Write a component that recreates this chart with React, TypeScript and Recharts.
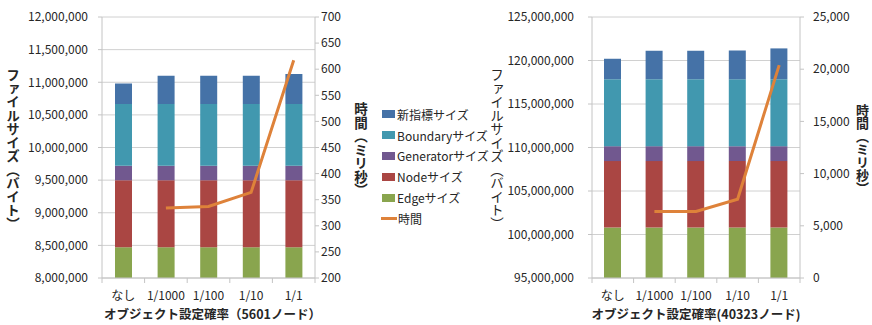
import React from 'react';
import { ComposedChart, Bar, Line, XAxis, YAxis, CartesianGrid, Legend } from 'recharts';

const categories = ['なし', '1/1000', '1/100', '1/10', '1/1'];

// 5601ノード
const edge5601 = [8470000, 8470000, 8470000, 8470000, 8470000];
const node5601 = [1030000, 1030000, 1030000, 1030000, 1030000];
const generator5601 = [220000, 220000, 220000, 220000, 220000];
const boundary5601 = [948000, 948000, 948000, 948000, 948000];
const newIndex5601 = [312000, 432000, 430000, 430000, 459000];
const time5601 = [null, 334, 337, 364, 617];

// 40323ノード
const edge40323 = [100800000, 100800000, 100800000, 100800000, 100800000];
const node40323 = [7640000, 7640000, 7640000, 7640000, 7640000];
const generator40323 = [1710000, 1710000, 1710000, 1710000, 1710000];
const boundary40323 = [7700000, 7700000, 7700000, 7700000, 7700000];
const newIndex40323 = [2350000, 3270000, 3270000, 3310000, 3540000];
const time40323 = [null, 6370, 6370, 7550, 20390];

const sizeTicks5601 = [8000000, 8500000, 9000000, 9500000, 10000000, 10500000, 11000000, 11500000, 12000000];
const timeTicks5601 = [200, 250, 300, 350, 400, 450, 500, 550, 600, 650, 700];
const sizeTicks40323 = [95000000, 100000000, 105000000, 110000000, 115000000, 120000000, 125000000];
const timeTicks40323 = [0, 5000, 10000, 15000, 20000, 25000];

const FONT = '"Noto Sans CJK JP", "Noto Sans", sans-serif';
const TEXT = '#262626';
const AXIS = '#c4c4c4';
const GRID = '#d0d0d0';
const LINE_COLOR = '#DE823A';

const SERIES = [
  { key: 'edge', name: 'Edgeサイズ', color: '#89A54E' },
  { key: 'node', name: 'Nodeサイズ', color: '#AA4643' },
  { key: 'generator', name: 'Generatorサイズ', color: '#71588F' },
  { key: 'boundary', name: 'Boundaryサイズ', color: '#4198AF' },
  { key: 'newIndex', name: '新指標サイズ', color: '#4572A7' },
];

const LEGEND_ORDER = ['newIndex', 'boundary', 'generator', 'node', 'edge', 'time'];

function buildRows(edge, node, generator, boundary, newIndex, time) {
  return categories.map((category, i) => ({
    category,
    edge: edge[i],
    node: node[i],
    generator: generator[i],
    boundary: boundary[i],
    newIndex: newIndex[i],
    time: time[i],
  }));
}

const rows5601 = buildRows(edge5601, node5601, generator5601, boundary5601, newIndex5601, time5601);
const rows40323 = buildRows(edge40323, node40323, generator40323, boundary40323, newIndex40323, time40323);

const fmt = (v: number) => v.toLocaleString('en-US');

const tickStyle = { fontSize: 12, fill: TEXT, fontFamily: FONT };

// category labels centred, tick marks on the band edges
const CategoryTick = (props: any) => {
  const { x, y, payload, index, visibleTicksCount } = props;
  const half = payload.offset || 21;
  return (
    <g>
      <line x1={x - half} x2={x - half} y1={y} y2={y + 5} stroke={AXIS} />
      {index === visibleTicksCount - 1 && (
        <line x1={x + half} x2={x + half} y1={y} y2={y + 5} stroke={AXIS} />
      )}
      <text x={x} y={y + 22} textAnchor="middle" {...tickStyle}>
        {payload.value}
      </text>
    </g>
  );
};

const verticalTitle = (text: string, dx: number, bold: boolean, size = 13.5) => (props: any) => {
  const { viewBox } = props;
  return (
    <text
      x={viewBox.x + dx}
      y={viewBox.y + viewBox.height / 2 + 2}
      textAnchor="middle"
      fontSize={size}
      fontWeight={bold ? 'bold' : 'normal'}
      fontFamily={FONT}
      fill={TEXT}
      style={{ writingMode: 'vertical-rl' }}
    >
      {text}
    </text>
  );
};

const bottomTitle = (text: string, dx: number) => (props: any) => {
  const { viewBox } = props;
  return (
    <text
      x={viewBox.x + viewBox.width / 2 + dx}
      y={viewBox.y + 41}
      textAnchor="middle"
      fontSize={12.5}
      fontWeight="bold"
      fontFamily={FONT}
      fill={TEXT}
    >
      {text}
    </text>
  );
};

const renderLegend = (props: any) => {
  const payload = props.payload || [];
  const items = LEGEND_ORDER.map((k) => payload.find((p: any) => p.dataKey === k)).filter(Boolean);
  return (
    <div style={{ fontFamily: FONT, fontSize: 12, color: TEXT }}>
      {items.map((it: any) => (
        <div key={it.dataKey} style={{ display: 'flex', alignItems: 'center', height: 20.8 }}>
          {it.type === 'line' ? (
            <span style={{ display: 'inline-block', width: 16, height: 3, background: it.color, marginRight: 1 }} />
          ) : (
            <span style={{ display: 'inline-block', width: 13, height: 8, background: it.color, margin: '0 2px 0 1px' }} />
          )}
          <span style={{ whiteSpace: 'nowrap' }}>{it.value}</span>
        </div>
      ))}
    </div>
  );
};

function SizeChart({ data, width, height, margin, leftWidth, rightWidth, sizeTicks, timeTicks, leftTickMargin, rightTickMargin, sizeTitleX, sizeTitleBold, timeTitleX, timeTitleSize, xTitle, xTitleDx, barSize, legend }: any) {
  return (
    <ComposedChart width={width} height={height} data={data} margin={margin}>
      <CartesianGrid vertical={false} stroke={GRID} yAxisId="size" />
      <XAxis
        dataKey="category"
        axisLine={{ stroke: AXIS }}
        tickLine={false}
        tickSize={0}
        tickMargin={0}
        height={30}
        interval={0}
        tick={<CategoryTick />}
        label={bottomTitle(xTitle, xTitleDx)}
      />
      <YAxis
        yAxisId="size"
        orientation="left"
        width={leftWidth}
        domain={[sizeTicks[0], sizeTicks[sizeTicks.length - 1]]}
        ticks={sizeTicks}
        allowDataOverflow
        tickFormatter={fmt}
        axisLine={{ stroke: AXIS }}
        tickLine={{ stroke: AXIS }}
        tickSize={4}
        tickMargin={leftTickMargin}
        tick={tickStyle}
        label={verticalTitle('ファイルサイズ（バイト）', sizeTitleX, sizeTitleBold)}
      />
      <YAxis
        yAxisId="time"
        orientation="right"
        width={rightWidth}
        domain={[timeTicks[0], timeTicks[timeTicks.length - 1]]}
        ticks={timeTicks}
        allowDataOverflow
        tickFormatter={fmt}
        axisLine={{ stroke: AXIS }}
        tickLine={{ stroke: AXIS }}
        tickSize={4}
        tickMargin={rightTickMargin}
        tick={tickStyle}
        label={verticalTitle('時間（ミリ秒）', timeTitleX, true, timeTitleSize)}
      />
      {SERIES.map((s) => (
        <Bar
          key={s.key}
          yAxisId="size"
          dataKey={s.key}
          name={s.name}
          stackId="size"
          fill={s.color}
          barSize={barSize}
          isAnimationActive={false}
        />
      ))}
      <Line
        yAxisId="time"
        dataKey="time"
        name="時間"
        type="linear"
        stroke={LINE_COLOR}
        strokeWidth={3}
        dot={false}
        activeDot={false}
        isAnimationActive={false}
      />
      {legend && (
        <Legend
          layout="vertical"
          align="center"
          verticalAlign="middle"
          content={renderLegend}
          wrapperStyle={{ left: 381, top: 104, width: 120 }}
        />
      )}
    </ComposedChart>
  );
}

export default function App() {
  return (
    <div style={{ position: 'absolute', left: 0, top: 0, width: 872, height: 325, background: '#fff' }}>
      <div style={{ position: 'absolute', left: 0, top: 0 }}>
        <SizeChart
          data={rows5601}
          width={490}
          height={325}
          margin={{ top: 17, right: 135, bottom: 17, left: 0 }}
          leftWidth={102}
          rightWidth={40}
          sizeTicks={sizeTicks5601}
          timeTicks={timeTicks5601}
          leftTickMargin={10}
          rightTickMargin={2}
          sizeTitleX={13}
          sizeTitleBold
          timeTitleX={46}
          timeTitleSize={13.5}
          xTitle="オブジェクト設定確率（5601ノード）"
          xTitleDx={4}
          barSize={17}
          legend
        />
      </div>
      <div style={{ position: 'absolute', left: 480, top: 0 }}>
        <SizeChart
          data={rows40323}
          width={392}
          height={325}
          margin={{ top: 17, right: 22, bottom: 17, left: 0 }}
          leftWidth={112}
          rightWidth={50}
          sizeTicks={sizeTicks40323}
          timeTicks={timeTicks40323}
          leftTickMargin={14}
          rightTickMargin={9}
          sizeTitleX={17}
          sizeTitleBold={false}
          timeTitleX={62.5}
          timeTitleSize={13}
          xTitle="オブジェクト設定確率(40323ノード)"
          xTitleDx={0}
          barSize={17}
          legend={false}
        />
      </div>
    </div>
  );
}
